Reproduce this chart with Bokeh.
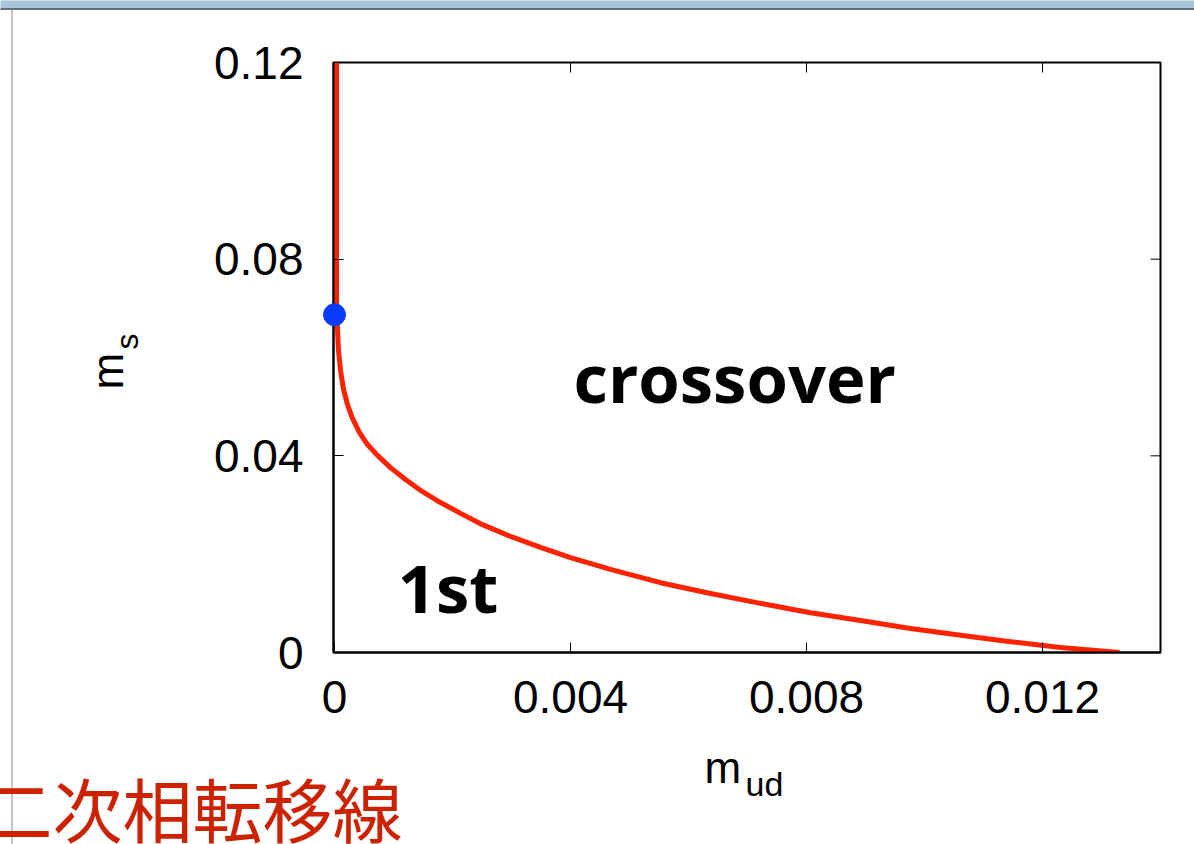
from bokeh.plotting import figure
from bokeh.models import Range1d, FixedTicker
from bokeh.core.properties import value
from bokeh.embed import file_html
from bokeh.resources import INLINE
from math import pi

# --- data ---
m_ud = [0.000034, 0.000034, 0.000034, 0.000051, 0.000068, 0.000102, 0.000153, 0.000220,
        0.000305, 0.000424, 0.000559, 0.000729, 0.000949, 0.001203, 0.001492, 0.001797,
        0.002136, 0.002508, 0.002983, 0.003492, 0.004000, 0.004678, 0.005525, 0.006373,
        0.007220, 0.008068, 0.008915, 0.009763, 0.010610, 0.011458, 0.012305, 0.013305]
m_s = [0.1200, 0.0818, 0.0716, 0.0655, 0.0614, 0.0574, 0.0535, 0.0504,
       0.0476, 0.0447, 0.0423, 0.0401, 0.0376, 0.0352, 0.0327, 0.0305,
       0.0283, 0.0260, 0.0236, 0.0214, 0.0193, 0.0169, 0.0142, 0.0120,
       0.0100, 0.0081, 0.0065, 0.0049, 0.0035, 0.0022, 0.0010, 0.0000]
crit_x = [0.0]
crit_y = [0.0687]

x_ticks = [0, 0.004, 0.008, 0.012]
x_tick_labels = ["0", "0.004", "0.008", "0.012"]
y_ticks = [0, 0.04, 0.08, 0.12]
y_tick_labels = ["0", "0.04", "0.08", "0.12"]

region_labels = ["crossover", "1st"]
region_x = [0.00405, 0.00107]
region_y = [0.0561, 0.0134]
caption = "二次相転移線"

W, H = 1194, 844
FL, FR, FT, FB = 333, 1160, 62, 652          # frame edges in screen px
X0, X1, Y0, Y1 = -0.000017, 0.0140, 0.0, 0.12

def sx(px):  # screen px -> data x
    return X0 + (px - FL) * (X1 - X0) / (FR - FL)

def sy(py):  # screen px -> data y
    return Y0 + (FB - py) * (Y1 - Y0) / (FB - FT)

p = figure(width=W, height=H, output_backend="svg", toolbar_location=None,
           x_range=Range1d(X0, X1), y_range=Range1d(Y0, Y1),
           min_border_left=FL, min_border_right=W - FR, min_border_top=FT,
           min_border_bottom=H - FB, background_fill_color="white",
           border_fill_color="white")
p.xgrid.visible = False
p.ygrid.visible = False
p.outline_line_color = "black"
p.outline_line_width = 2
p.outline_line_alpha = 1.0

tick_font = "Liberation Sans"
for ax, ticks, labels in ((p.xaxis[0], x_ticks, x_tick_labels), (p.yaxis[0], y_ticks, y_tick_labels)):
    ax.ticker = FixedTicker(ticks=ticks)
    ax.major_label_overrides = {t: l for t, l in zip(ticks, labels)}
    ax.major_label_text_font = tick_font
    ax.major_label_text_font_size = "46px"
    ax.major_label_text_color = "black"
    ax.major_tick_in = 10
    ax.major_tick_out = 0
    ax.minor_tick_line_color = None
    ax.major_tick_line_color = "black"
    ax.major_tick_line_width = 1
    ax.axis_line_color = "black"
    ax.axis_line_width = 2
p.xaxis[0].major_label_standoff = 28
p.yaxis[0].major_label_standoff = 30

# mirrored inner ticks on the right and top edges
rt = p.segment(x0=[X1] * len(y_ticks), x1=[sx(FR - 10)] * len(y_ticks), y0=y_ticks, y1=y_ticks,
               line_color="black", line_width=1)
tt = p.segment(x0=x_ticks, x1=x_ticks, y0=[Y1] * len(x_ticks), y1=[sy(FT + 10)] * len(x_ticks),
               line_color="black", line_width=1)

# slide decorations (window edge)
top = p.quad(left=[sx(0)], right=[sx(W)], top=[sy(0)], bottom=[sy(8)],
             fill_color="#a9c5de", line_color=None)
top.level = "annotation"
top_line = p.segment(x0=[sx(0)], x1=[sx(W)], y0=[sy(8.5)], y1=[sy(8.5)],
                     line_color="#3a4250", line_width=1.5)
top_line.level = "annotation"
left_line = p.segment(x0=[sx(11.5)], x1=[sx(11.5)], y0=[sy(9)], y1=[sy(H)],
                      line_color="#8a8a8a", line_width=1)
left_line.level = "annotation"

p.line(m_ud, m_s, line_color="#ff2200", line_width=5, line_join="round")
dot = p.scatter(crit_x, crit_y, size=22, color="#0a3cff")
dot.level = "annotation"

reg = p.text(x=region_x, y=region_y, text=region_labels, text_font=value("Open Sans"),
             text_font_style="bold", text_font_size="67px", text_color="black",
             text_baseline="alphabetic", text_align="left")
reg.level = "annotation"

# axis titles with subscripts
def txt(x, y, s, size, angle=0.0, font=tick_font, color="black"):
    r = p.text(x=[x], y=[y], text=[s], text_font=value(font), text_font_size=size,
               angle=angle, text_color=color, text_baseline="alphabetic", text_align="left")
    r.level = "annotation"
    return r

txt(sx(704), sy(767), "m", "44px")
txt(sx(745), sy(783), "ud", "34px")
txt(sx(107), sy(389), "m", "44px", angle=pi / 2)
txt(sx(126), sy(349), "s", "32px", angle=pi / 2)
txt(sx(-18), sy(807), caption, "70px", font="Noto Sans CJK JP", color="#cc2200")

open("out.html", "w").write(file_html(p, INLINE))
